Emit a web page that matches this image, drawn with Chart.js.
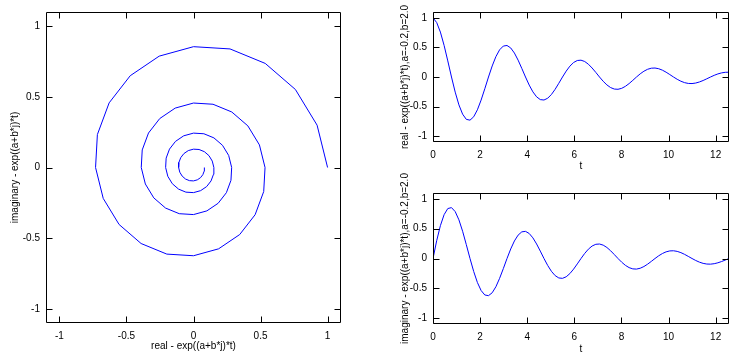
<!DOCTYPE html>
<html>
<head>
<meta charset="utf-8">
<script src="https://cdn.jsdelivr.net/npm/chart.js@4/dist/chart.umd.min.js"></script>
<style>
  html, body { margin: 0; padding: 0; background: #fff; }
  body { width: 742px; height: 361px; position: relative; overflow: hidden; }
  canvas { position: absolute; }
</style>
</head>
<body>
<canvas id="c1" width="370" height="361" style="left:0;top:0"></canvas>
<canvas id="c2" width="372" height="180" style="left:370px;top:0"></canvas>
<canvas id="c3" width="372" height="201" style="left:370px;top:160px"></canvas>
<script>
const tValues = [
  0, 0.157, 0.314, 0.471, 0.628, 0.785, 0.942, 1.100, 1.257, 1.414,
  1.571, 1.728, 1.885, 2.042, 2.199, 2.356, 2.513, 2.670, 2.827, 2.985,
  3.142, 3.299, 3.456, 3.613, 3.770, 3.927, 4.084, 4.241, 4.398, 4.555,
  4.712, 4.869, 5.027, 5.184, 5.341, 5.498, 5.655, 5.812, 5.969, 6.126,
  6.283, 6.440, 6.597, 6.754, 6.912, 7.069, 7.226, 7.383, 7.540, 7.697,
  7.854, 8.011, 8.168, 8.325, 8.482, 8.639, 8.796, 8.954, 9.111, 9.268,
  9.425, 9.582, 9.739, 9.896, 10.053, 10.210, 10.367, 10.524, 10.681, 10.838,
  10.996, 11.153, 11.310, 11.467, 11.624, 11.781, 11.938, 12.095, 12.252, 12.409,
  12.566
];
const realValues = [
  1, 0.92164, 0.75975, 0.53492, 0.27253, 0, -0.25593, -0.47175, -0.62923, -0.71682,
  -0.73040, -0.67317, -0.55492, -0.39071, -0.19905, 0, 0.18693, 0.34457, 0.45959, 0.52357,
  0.53349, 0.49169, 0.40532, 0.28538, 0.14539, 0, -0.13653, -0.25167, -0.33569, -0.38242,
  -0.38966, -0.35913, -0.29604, -0.20844, -0.10619, 0, 0.09973, 0.18382, 0.24518, 0.27932,
  0.28461, 0.26231, 0.21623, 0.15224, 0.07756, 0, -0.07284, -0.13426, -0.17908, -0.20401,
  -0.20788, -0.19159, -0.15794, -0.11120, -0.05665, 0, 0.05320, 0.09807, 0.13080, 0.14901,
  0.15184, 0.13994, 0.11536, 0.08122, 0.04138, 0, -0.03886, -0.07163, -0.09554, -0.10884,
  -0.11090, -0.10221, -0.08426, -0.05932, -0.03022, 0, 0.02838, 0.05232, 0.06978, 0.07950,
  0.08100
];
const imagValues = [
  0, 0.29946, 0.55199, 0.73625, 0.83875, 0.85464, 0.78767, 0.64931, 0.45716, 0.23291,
  0, -0.21873, -0.40318, -0.53776, -0.61262, -0.62423, -0.57532, -0.47426, -0.33391, -0.17012,
  0, 0.15976, 0.29448, 0.39278, 0.44746, 0.45594, 0.42021, 0.34640, 0.24389, 0.12426,
  0, -0.11669, -0.21509, -0.28689, -0.32683, -0.33302, -0.30692, -0.25301, -0.17814, -0.09076,
  0, 0.08523, 0.15710, 0.20954, 0.23872, 0.24324, 0.22418, 0.18480, 0.13011, 0.06629,
  0, -0.06225, -0.11475, -0.15305, -0.17436, -0.17766, -0.16374, -0.13498, -0.09504, -0.04842,
  0, 0.04547, 0.08381, 0.11179, 0.12735, 0.12976, 0.11960, 0.09859, 0.06941, 0.03536,
  0, -0.03321, -0.06122, -0.08165, -0.09302, -0.09478, -0.08735, -0.07201, -0.05070, -0.02583,
  0
];
const spiralTicks = [-1, -0.5, 0, 0.5, 1];
const valueTicks = [-1, -0.5, 0, 0.5, 1];
const timeTicks = [0, 2, 4, 6, 8, 10, 12];
const spiralRange = [-1.1, 1.1];
const valueRange = [-1.1, 1.1];
const timeRange = [0, 12.566];

const labelSpiralX = 'real - exp((a+b*j)*t)';
const labelSpiralY = 'imaginary - exp((a+b*j)*t)';
const labelReal = 'real - exp((a+b*j)*t),a=-0.2,b=2.0';
const labelImag = 'imaginary - exp((a+b*j)*t),a=-0.2,b=2.0';
const labelT = 't';

// ---- styling ----
Chart.defaults.font.family = '"Liberation Sans", Arial, sans-serif';
Chart.defaults.font.size = 10;
Chart.defaults.color = '#000';

const frameTicks = {
  id: 'frameTicks',
  afterDraw(chart) {
    const { ctx, chartArea: a } = chart;
    const L = 6;
    const l = Math.round(a.left) + 0.5, r = Math.round(a.right) - 0.5;
    const t = Math.round(a.top) + 0.5, b = Math.round(a.bottom) - 0.5;
    ctx.save();
    ctx.strokeStyle = '#000';
    ctx.lineWidth = 1;
    ctx.beginPath();
    ctx.rect(l, t, r - l, b - t);
    const xs = chart.scales.x, ys = chart.scales.y;
    xs.ticks.forEach(tk => {
      const p = Math.round(xs.getPixelForValue(tk.value)) + 0.5;
      ctx.moveTo(p, b); ctx.lineTo(p, b - L);
      ctx.moveTo(p, t); ctx.lineTo(p, t + L);
    });
    ys.ticks.forEach(tk => {
      const p = Math.round(ys.getPixelForValue(tk.value)) + 0.5;
      ctx.moveTo(l, p); ctx.lineTo(l + L, p);
      ctx.moveTo(r, p); ctx.lineTo(r - L, p);
    });
    ctx.stroke();
    ctx.restore();
  }
};

function axis(range, tickList, title, size, titlePad, tickPad) {
  return {
    type: 'linear',
    min: range[0], max: range[1],
    grid: { display: false, drawTicks: false },
    border: { display: false },
    ticks: { padding: tickPad, font: { size: 10 }, color: '#000', callback: v => String(v) },
    title: { display: true, text: title, padding: titlePad, font: { size: 10 }, color: '#000' },
    afterBuildTicks: s => { s.ticks = tickList.map(v => ({ value: v })); },
    afterFit: s => { if (s.isHorizontal()) s.height = size; else s.width = size; }
  };
}

function baseOptions(xAxis, yAxis, padding) {
  return {
    responsive: false,
    animation: false,
    devicePixelRatio: 1,
    layout: { padding },
    plugins: { legend: { display: false }, tooltip: { enabled: false } },
    scales: { x: xAxis, y: yAxis },
    elements: { point: { radius: 0 }, line: { tension: 0 } }
  };
}

// Left: spiral
new Chart(document.getElementById('c1'), {
  type: 'scatter',
  data: {
    datasets: [{
      data: realValues.map((v, i) => ({ x: v, y: imagValues[i] })),
      showLine: true,
      borderColor: '#0000ff',
      borderWidth: 1,
      pointRadius: 0,
      fill: false
    }]
  },
  options: baseOptions(
    axis(spiralRange, spiralTicks, labelSpiralX, 38, { top: 9, bottom: 9 }, 7),
    axis(spiralRange, spiralTicks, labelSpiralY, 46, { top: 9, bottom: 9 }, 6),
    { left: 0, top: 10, right: 29, bottom: 0 }
  ),
  plugins: [frameTicks]
});

// Right top: real part
new Chart(document.getElementById('c2'), {
  type: 'line',
  data: {
    datasets: [{
      data: tValues.map((t, i) => ({ x: t, y: realValues[i] })),
      borderColor: '#0000ff',
      borderWidth: 1,
      pointRadius: 0,
      fill: false
    }]
  },
  options: baseOptions(
    axis(timeRange, timeTicks, labelT, 38, { top: 8, bottom: 8 }, 7),
    axis(valueRange, valueTicks, labelReal, 63, { top: 29, bottom: 29 }, 6),
    { left: 0, top: 10, right: 13, bottom: 0 }
  ),
  plugins: [frameTicks]
});

// Right bottom: imaginary part
new Chart(document.getElementById('c3'), {
  type: 'line',
  data: {
    datasets: [{
      data: tValues.map((t, i) => ({ x: t, y: imagValues[i] })),
      borderColor: '#0000ff',
      borderWidth: 1,
      pointRadius: 0,
      fill: false
    }]
  },
  options: baseOptions(
    axis(timeRange, timeTicks, labelT, 37, { top: 6, bottom: 6 }, 7),
    axis(valueRange, valueTicks, labelImag, 63, { top: 29, bottom: 29 }, 6),
    { left: 0, top: 33, right: 13, bottom: 0 }
  ),
  plugins: [frameTicks]
});
</script>
</body>
</html>
